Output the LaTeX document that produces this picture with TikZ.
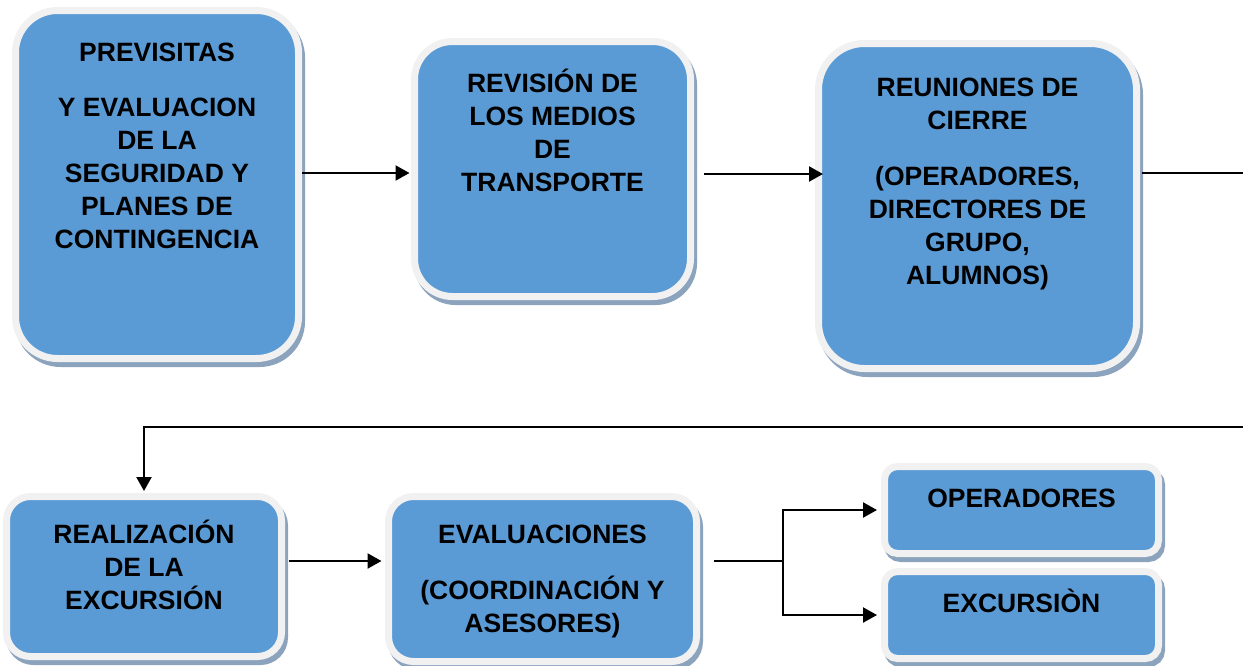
\documentclass[tikz,border=0pt]{standalone}
\usepackage{fontspec}
\setmainfont{Liberation Sans}
\usetikzlibrary{arrows.meta,calc}
\definecolor{boxblue}{RGB}{91,155,213}
\definecolor{boxrim}{RGB}{241,241,241}
\definecolor{boxshade}{RGB}{140,163,190}
\tikzset{
  panel/.style={rectangle, draw=boxrim, fill=boxblue, line width=7pt, inner sep=0pt,
    preaction={fill=boxshade, draw=boxshade, line width=7pt, transform canvas={xshift=3pt, yshift=-5pt}}},
  txt/.style={align=center, font=\fontsize{26.5}{33}\selectfont\bfseries, inner sep=0pt, anchor=north},
  conn/.style={line width=2.2pt, draw=black},
  thinconn/.style={line width=1.5pt, draw=black},
  arr/.style={conn, -{Triangle[length=14pt,width=15pt]}}
}
\begin{document}
\begin{tikzpicture}[x=1pt,y=-1pt]
\useasboundingbox (0,0) rectangle (1243,665);
\clip (0,0) rectangle (1243,665);
% boxes
\node[panel, minimum width=283pt, minimum height=348pt, rounded corners=42pt] (b1) at (157,184.5) {};
\node[panel, minimum width=276pt, minimum height=255pt, rounded corners=38pt] (b2) at (552.5,169) {};
\node[panel, minimum width=318pt, minimum height=325pt, rounded corners=46pt] (b3) at (977.5,206) {};
\node[panel, minimum width=275pt, minimum height=160pt, rounded corners=24pt] (b4) at (144,576.5) {};
\node[panel, minimum width=308pt, minimum height=165pt, rounded corners=25pt] (b5) at (542.5,579) {};
\node[panel, minimum width=274pt, minimum height=87pt, rounded corners=13pt] (b6) at (1021.5,510) {};
\node[panel, minimum width=274pt, minimum height=87pt, rounded corners=13pt] (b7) at (1021.5,615) {};
% texts
\node[txt] (t1) at (157,38) {\strut PREVISITAS\\[22pt]Y EVALUACION\\DE LA\\SEGURIDAD Y\\PLANES DE\\CONTINGENCIA};
\node[txt] (t2) at (552.5,69) {\strut REVISIÓN DE\\LOS MEDIOS\\DE\\TRANSPORTE};
\node[txt] (t3) at (977.5,73) {\strut REUNIONES DE\\CIERRE\\[23pt](OPERADORES,\\DIRECTORES DE\\GRUPO,\\ALUMNOS)};
\node[txt] (t4) at (144,520) {\strut REALIZACIÓN\\DE LA\\EXCURSIÓN};
\node[txt] (t5) at (542.5,520) {\strut EVALUACIONES\\[22pt](COORDINACIÓN Y\\ASESORES)};
\node[txt] (t6) at (1021.5,484) {\strut OPERADORES};
\node[txt] (t7) at (1021.5,589) {\strut EXCURSIÒN};
% connectors
\draw[arr, shorten >=1.5pt] ([shift={(0,-11.5)}]b1.east) -- ([shift={(0,-11.5)}]b1.east -| b2.west);
\draw[arr, shorten >=1.5pt] ([shift={(9.5,5)}]b2.east) -- ([shift={(9.5,5)}]b2.east -| b3.west);
\coordinate (r1) at (1262,173);
\coordinate (r2) at (1262,427);
\draw[thinconn] ([shift={(1.5,-33)}]b3.east) -- (r1);
\draw[arr, shorten >=2pt] (r1) -- (r2) -- (r2 -| b4.north) -- (b4.north);
\draw[arr, shorten >=7pt] ([shift={(3.5,-15.5)}]b4.east) -- ([shift={(3.5,-15.5)}]b4.east -| b5.west);
\coordinate (j) at (783,561);
\draw[thinconn] ([shift={(13.5,-18)}]b5.east) -- (j);
\draw[arr, shorten >=4pt] (j) |- (b6.west);
\draw[arr, shorten >=4pt] (j) |- (b7.west);
\end{tikzpicture}
\end{document}
